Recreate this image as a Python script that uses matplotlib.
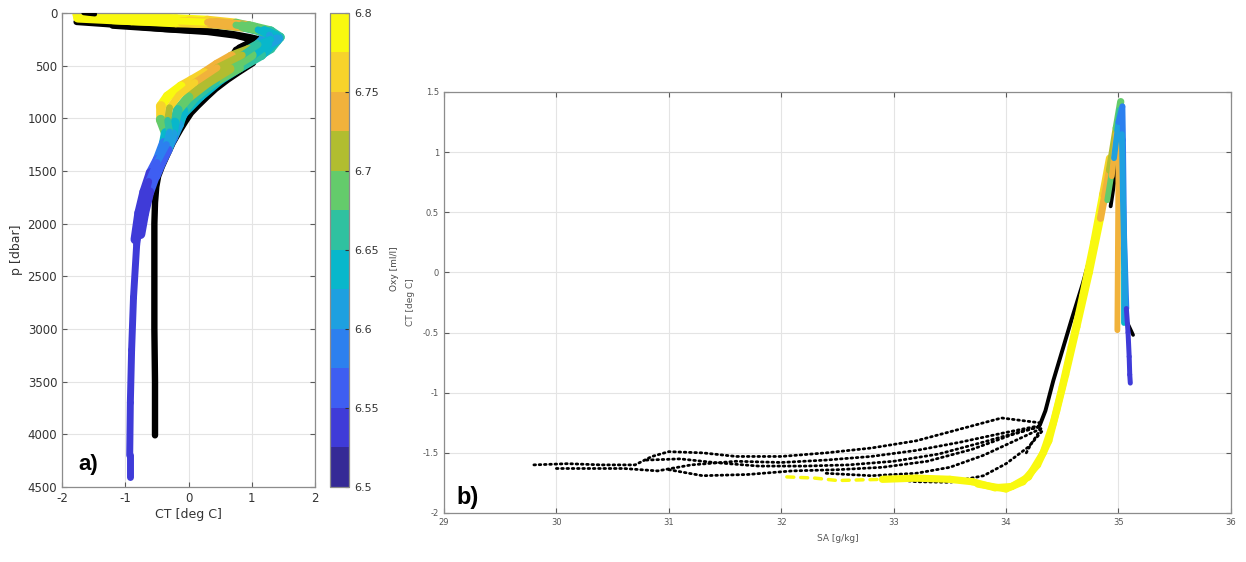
import numpy as np
import matplotlib
matplotlib.use("Agg")
import matplotlib.pyplot as plt
from matplotlib.collections import LineCollection
from matplotlib.colors import ListedColormap, BoundaryNorm
from matplotlib.cm import ScalarMappable

plt.rcParams['axes.unicode_minus'] = False

# discrete parula-like palette, 6.5 .. 6.8 ml/l in 0.025 steps
oxy_colors = ['#352a96', '#3f3bd8', '#3e5ef2', '#2c80ef', '#1ea0e0', '#08b7cb',
              '#2fc1a0', '#64cb6b', '#b1bd30', '#f1b23b', '#f7d32b', '#f9f90f']
oxy_bounds = [6.5, 6.525, 6.55, 6.575, 6.6, 6.625, 6.65, 6.675, 6.7, 6.725, 6.75, 6.775, 6.8]
oxy_ticks = [6.5, 6.55, 6.6, 6.65, 6.7, 6.75, 6.8]

# ---- panel a: CT profiles against pressure ----
c1_p = [15, 40, 58, 72, 100, 140, 190, 240, 300, 350, 412, 490, 570, 640, 697, 792, 887, 1013, 1139, 1234, 1393, 1519, 1700, 1900, 2150]
c1_ct = [-1.76, -1.0, -0.2, 0.3, 0.75, 1.05, 1.18, 1.2, 1.1, 0.95, 0.68, 0.45, 0.25, 0.05, -0.12, -0.33, -0.44, -0.44, -0.36, -0.39, -0.49, -0.6, -0.7, -0.78, -0.84]
c1_oxy = [6.79, 6.79, 6.79, 6.78, 6.72, 6.66, 6.6, 6.58, 6.64, 6.7, 6.73, 6.74, 6.75, 6.76, 6.77, 6.78, 6.79, 6.72, 6.66, 6.61, 6.57, 6.55, 6.54, 6.53, 6.53]

c2_p = [30, 55, 75, 88, 115, 160, 210, 250, 300, 400, 520, 660, 780, 900, 1020, 1130, 1250, 1420, 1600, 1850, 2200, 2700, 3200, 3700, 4200, 4410]
c2_ct = [-1.76, -1.0, -0.2, 0.3, 0.75, 1.1, 1.28, 1.3, 1.1, 0.85, 0.45, 0.1, -0.15, -0.3, -0.33, -0.3, -0.35, -0.5, -0.63, -0.74, -0.82, -0.87, -0.9, -0.92, -0.93, -0.93]
c2_oxy = [6.79, 6.79, 6.79, 6.77, 6.71, 6.65, 6.61, 6.62, 6.64, 6.69, 6.73, 6.75, 6.76, 6.74, 6.68, 6.63, 6.6, 6.57, 6.55, 6.53, 6.53, 6.53, 6.53, 6.53, 6.53, 6.53]

c3_p = [45, 70, 85, 95, 125, 170, 220, 250, 290, 400, 530, 660, 800, 920, 1040, 1150, 1300, 1500, 1700, 1900, 2100]
c3_ct = [-1.75, -0.9, -0.1, 0.35, 0.85, 1.2, 1.38, 1.4, 1.25, 1.0, 0.65, 0.3, 0.0, -0.17, -0.22, -0.25, -0.33, -0.5, -0.62, -0.7, -0.76]
c3_oxy = [6.79, 6.79, 6.78, 6.75, 6.7, 6.66, 6.63, 6.62, 6.62, 6.67, 6.71, 6.72, 6.7, 6.68, 6.65, 6.62, 6.59, 6.56, 6.55, 6.54, 6.53]

c4_p = [60, 90, 100, 135, 185, 240, 280, 400, 520, 650, 800, 930, 1060, 1180, 1350, 1550]
c4_ct = [-1.2, -0.2, 0.4, 0.9, 1.25, 1.42, 1.35, 1.15, 0.8, 0.42, 0.1, -0.08, -0.15, -0.24, -0.38, -0.52]
c4_oxy = [6.79, 6.78, 6.74, 6.69, 6.65, 6.63, 6.6, 6.65, 6.68, 6.68, 6.66, 6.64, 6.62, 6.6, 6.58, 6.56]

c5_p = [75, 90, 120, 170, 230, 265, 340, 475, 633, 792, 949, 1108, 1234, 1456, 1650]
c5_ct = [0.0, 0.45, 0.95, 1.3, 1.45, 1.4, 1.3, 0.93, 0.51, 0.19, -0.07, -0.22, -0.33, -0.48, -0.6]
c5_oxy = [6.78, 6.75, 6.7, 6.67, 6.67, 6.67, 6.66, 6.65, 6.64, 6.63, 6.62, 6.61, 6.6, 6.58, 6.56]

# station without oxygen, drawn in black
blk_top_p = [0, 6, 12]
blk_top_ct = [-1.66, -1.58, -1.48]
blk_p = [85, 105, 130, 152, 175, 200, 230, 248, 275, 310, 350, 380, 430, 475, 560, 633, 720, 792, 880, 949, 1030, 1108, 1234, 1350, 1456, 1550, 1650, 1800, 2000, 2500, 3000, 3500, 4010]
blk_ct = [-1.77, -1.3, -0.8, -0.37, 0.36, 0.7, 0.97, 1.1, 1.02, 0.88, 0.75, 0.72, 0.95, 1.02, 0.8, 0.62, 0.43, 0.3, 0.15, 0.04, -0.05, -0.13, -0.25, -0.34, -0.42, -0.48, -0.51, -0.53, -0.54, -0.54, -0.54, -0.53, -0.53]
blk_wedge_p = [120, 150, 180, 215, 250, 285, 330]
blk_wedge_ct = [-1.2, -0.45, 0.3, 0.75, 0.98, 0.95, 0.8]

# ---- panel b: SA / CT diagram ----
ts_black_sa = [
    [29.8, 30.1, 30.4, 30.7, 30.85, 31.0, 31.3, 31.6, 32.0, 32.4, 32.8, 33.2, 33.6, 33.96, 34.3],
    [30.0, 30.3, 30.6, 30.9, 31.2, 31.6, 32.0, 32.4, 32.8, 33.2, 33.6, 34.0, 34.32],
    [30.8, 31.1, 31.4, 31.8, 32.2, 32.6, 33.0, 33.4, 33.8, 34.1, 34.32],
    [31.0, 31.3, 31.7, 32.1, 32.5, 32.9, 33.3, 33.7, 34.05, 34.3],
    [32.4, 32.8, 33.2, 33.5, 33.8, 34.1, 34.33],
    [32.9, 33.2, 33.5, 33.8, 34.0, 34.2, 34.32],
    [34.18, 34.22, 34.27, 34.31],
]
ts_black_ct = [
    [-1.60, -1.59, -1.60, -1.60, -1.53, -1.49, -1.50, -1.53, -1.53, -1.50, -1.46, -1.40, -1.30, -1.21, -1.25],
    [-1.63, -1.63, -1.63, -1.65, -1.60, -1.57, -1.58, -1.56, -1.53, -1.48, -1.41, -1.33, -1.27],
    [-1.56, -1.55, -1.58, -1.61, -1.61, -1.60, -1.57, -1.51, -1.41, -1.33, -1.28],
    [-1.64, -1.69, -1.68, -1.65, -1.64, -1.62, -1.57, -1.47, -1.35, -1.28],
    [-1.67, -1.69, -1.67, -1.62, -1.52, -1.39, -1.29],
    [-1.71, -1.74, -1.745, -1.69, -1.59, -1.45, -1.32],
    [-1.50, -1.43, -1.36, -1.30],
]
ts_rise_sa = [34.3, 34.35, 34.42, 34.5, 34.58, 34.68, 34.77, 34.85, 34.92, 34.97, 34.99, 34.97, 34.93]
ts_rise_ct = [-1.27, -1.15, -0.9, -0.65, -0.4, -0.1, 0.2, 0.48, 0.75, 1.0, 1.08, 0.8, 0.55]
ts_deep_black_sa = [35.07, 35.1, 35.13]
ts_deep_black_ct = [-0.40, -0.46, -0.52]

ts_sparse_sa = [32.05, 32.3, 32.5, 32.9]
ts_sparse_ct = [-1.70, -1.71, -1.73, -1.72]

ts_prof_sa = [
    [32.9, 33.2, 33.5, 33.7, 33.9, 34.05, 34.2, 34.33, 34.42, 34.5, 34.58, 34.68, 34.78, 34.86, 34.92],
    [33.75, 34.0, 34.15, 34.28, 34.38, 34.45, 34.53, 34.63, 34.74, 34.84, 34.92, 34.98, 35.02],
    [34.9, 34.96, 35.01, 35.03, 35.04, 35.05, 35.05],
    [34.94, 34.98, 35.0, 34.995, 34.99],
    [34.96, 35.0, 35.035, 35.04, 35.05, 35.07],
    [35.03, 35.04, 35.055, 35.06],
    [35.07, 35.085, 35.095, 35.1, 35.105],
]
ts_prof_ct = [
    [-1.72, -1.71, -1.72, -1.74, -1.79, -1.78, -1.70, -1.5, -1.25, -0.95, -0.62, -0.2, 0.25, 0.65, 0.95],
    [-1.76, -1.80, -1.74, -1.6, -1.4, -1.15, -0.85, -0.45, 0.0, 0.45, 0.85, 1.2, 1.42],
    [0.6, 0.95, 1.35, 1.2, 0.5, 0.0, -0.42],
    [0.8, 1.15, 0.9, 0.2, -0.48],
    [0.95, 1.25, 1.38, 1.1, 0.3, -0.3],
    [1.15, 0.6, 0.0, -0.4],
    [-0.3, -0.5, -0.7, -0.85, -0.92],
]
ts_prof_oxy = [
    [6.79, 6.79, 6.79, 6.79, 6.79, 6.79, 6.79, 6.79, 6.79, 6.79, 6.79, 6.79, 6.79, 6.77, 6.76],
    [6.79, 6.79, 6.79, 6.79, 6.79, 6.79, 6.79, 6.79, 6.79, 6.77, 6.72, 6.69, 6.67],
    [6.70, 6.68, 6.66, 6.64, 6.64, 6.63, 6.63],
    [6.74, 6.74, 6.74, 6.74, 6.74],
    [6.62, 6.6, 6.58, 6.58, 6.58, 6.58],
    [6.62, 6.62, 6.62, 6.62],
    [6.53, 6.53, 6.53, 6.53, 6.53],
]
ts_prof_lw = [5.2, 5.2, 4.2, 4.2, 4.2, 4.2, 3.6]

cmap = ListedColormap(oxy_colors)
cmap.set_over(oxy_colors[-1])
cmap.set_under(oxy_colors[0])
norm = BoundaryNorm(oxy_bounds, cmap.N)


def colored_profile(ax, x, y, oxy, lw):
    pts = np.column_stack([x, y])
    segs = np.stack([pts[:-1], pts[1:]], axis=1)
    oxy = np.asarray(oxy)
    lc = LineCollection(segs, cmap=cmap, norm=norm, linewidths=lw,
                        capstyle='round', joinstyle='round')
    lc.set_array((oxy[:-1] + oxy[1:]) / 2)
    ax.add_collection(lc)


def matlab_axes(ax, labelsize, labelcolor):
    for s in ax.spines.values():
        s.set_color('#8c8c8c')
        s.set_linewidth(0.9)
    ax.tick_params(direction='in', length=3.5, width=0.8, color='#5a5a5a',
                   top=True, right=True, labelsize=labelsize, labelcolor=labelcolor)
    ax.grid(True, color='#e4e4e4', linewidth=0.8)
    ax.set_axisbelow(True)


fig = plt.figure(figsize=(12.46, 5.62), dpi=100)

# panel a
ax1 = fig.add_axes([0.0498, 0.1335, 0.2030, 0.8434])
ax1.plot(blk_ct, blk_p, color='black', lw=4.6, solid_capstyle='round', solid_joinstyle='round')
ax1.plot(blk_wedge_ct, blk_wedge_p, color='black', lw=4.6, solid_capstyle='round', solid_joinstyle='round')
colored_profile(ax1, c1_ct, c1_p, c1_oxy, 7)
colored_profile(ax1, c5_ct, c5_p, c5_oxy, 6.5)
colored_profile(ax1, c4_ct, c4_p, c4_oxy, 7)
colored_profile(ax1, c3_ct, c3_p, c3_oxy, 7)
colored_profile(ax1, c2_ct, c2_p, c2_oxy, 5)
ax1.plot(blk_top_ct, blk_top_p, color='black', lw=3.2, solid_capstyle='round', zorder=5)
ax1.set_xlim(-2, 2)
ax1.set_ylim(4500, 0)
ax1.set_xticks([-2, -1, 0, 1, 2])
ax1.set_yticks(np.arange(0, 4501, 500))
matlab_axes(ax1, 8.5, '#333333')
ax1.set_xlabel('CT [deg C]', fontsize=9, color='#333333', labelpad=2)
ax1.set_ylabel('p [dbar]', fontsize=9, color='#333333', labelpad=3)
ax1.text(0.063, 0.025, 'a)', transform=ax1.transAxes, fontsize=16,
         fontweight='bold', family='Liberation Sans', ha='left', va='bottom')

cax = fig.add_axes([0.2648, 0.1335, 0.01525, 0.8434])
cb = fig.colorbar(ScalarMappable(norm=norm, cmap=cmap), cax=cax, ticks=oxy_ticks)
cb.ax.set_yticklabels(['%g' % t for t in oxy_ticks])
cb.ax.minorticks_off()
cb.outline.set_edgecolor('#8c8c8c')
cb.outline.set_linewidth(0.9)
cb.ax.tick_params(direction='in', length=3, width=0.8, color='#333333',
                  labelsize=8, labelcolor='#333333')
cb.set_label('Oxy [ml/l]', fontsize=6.5, color='#444444')
cb.ax.yaxis.set_label_coords(3.15, 0.46)

# panel b
ax2 = fig.add_axes([0.3563, 0.0872, 0.6316, 0.7491])
for sa, ct in zip(ts_black_sa, ts_black_ct):
    ax2.plot(sa, ct, color='black', lw=2.0, linestyle=(0, (0.6, 1.3)),
             dash_capstyle='round')
ax2.plot(ts_rise_sa, ts_rise_ct, color='black', lw=2.8, solid_capstyle='round')
ax2.plot(ts_deep_black_sa, ts_deep_black_ct, color='black', lw=2.6, solid_capstyle='round')
ax2.plot(ts_sparse_sa, ts_sparse_ct, color=oxy_colors[-1], lw=2.5,
         linestyle=(0, (2, 2)), dash_capstyle='round')
for sa, ct, ox, lw in zip(ts_prof_sa, ts_prof_ct, ts_prof_oxy, ts_prof_lw):
    colored_profile(ax2, sa, ct, ox, lw)
ax2.set_xlim(29, 36)
ax2.set_ylim(-2, 1.5)
ax2.set_xticks(range(29, 37))
ax2.set_yticks([-2, -1.5, -1, -0.5, 0, 0.5, 1, 1.5])
ax2.set_yticklabels(['-2', '-1.5', '-1', '-0.5', '0', '0.5', '1', '1.5'])
matlab_axes(ax2, 6, '#555555')
ax2.set_xlabel('SA [g/kg]', fontsize=6.5, color='#555555', labelpad=5)
ax2.set_ylabel('CT [deg C]', fontsize=6.5, color='#555555', labelpad=6)
ax2.text(0.016, 0.01, 'b)', transform=ax2.transAxes, fontsize=17,
         fontweight='bold', family='Liberation Sans', ha='left', va='bottom')

fig.savefig('out.png', dpi=100, facecolor='white')
